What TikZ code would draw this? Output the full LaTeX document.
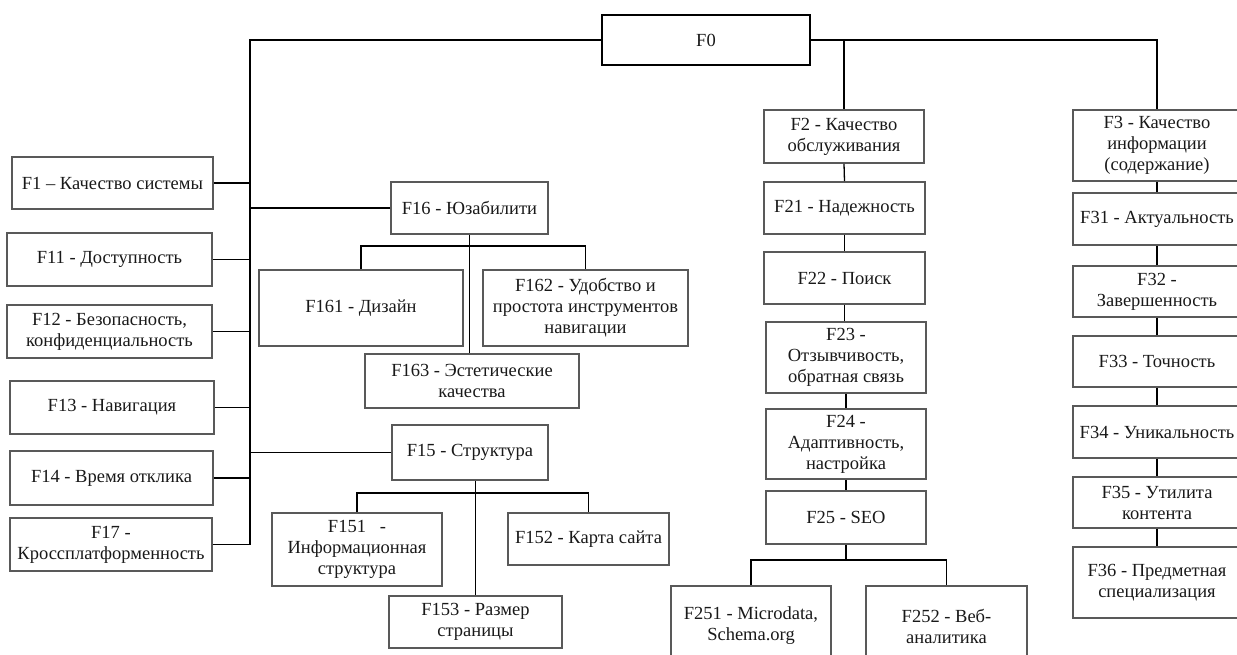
\documentclass[tikz,border=0pt]{standalone}
\usepackage{fontspec}
\setmainfont{Liberation Serif}
\begin{document}
\begin{tikzpicture}[x=1pt,y=-1pt,
  cell/.style={draw=black!65, line width=1.7pt, align=center, inner sep=0pt,
    text=black!90, font=\fontsize{18.5}{21}\selectfont},
  root/.style={cell, draw=black, line width=2.8pt},
  link/.style={draw=black, line width=1.3pt}]
\useasboundingbox (0,0) rectangle (1237,655);
\clip (0,0) rectangle (1237,655);

% root
\node[root, minimum width=208, minimum height=50] (F0) at (706,40) {F0};

% left column
\node[cell, minimum width=201, minimum height=52] (F1)  at (112.5,183)   {F1 -- Качество системы};
\node[cell, minimum width=205, minimum height=53] (F11) at (109.5,259.5) {F11 - Доступность};
\node[cell, minimum width=205, minimum height=53] (F12) at (109.5,331.5) {F12 - Безопасность,\\конфиденциальность};
\node[cell, minimum width=204, minimum height=53] (F13) at (112,407.5)   {F13 - Навигация};
\node[cell, minimum width=203, minimum height=54] (F14) at (111.5,478)   {F14 - Время отклика};
\node[cell, minimum width=202, minimum height=53] (F17) at (111,544.5)   {F17 -\\Кроссплатформенность};

% usability
\node[cell, minimum width=157, minimum height=52] (F16)  at (469.5,208) {F16 - Юзабилити};
\node[cell, minimum width=204, minimum height=76] (F161) at (361,308)   {F161 - Дизайн};
\node[cell, minimum width=205, minimum height=76] (F162) at (585.5,308) {F162 - Удобство и\\простота инструментов\\навигации};
\node[cell, minimum width=214, minimum height=54] (F163) at (472,381)   {F163 - Эстетические\\качества};

% structure
\node[cell, minimum width=156, minimum height=55] (F15)  at (470,452.5)   {F15 - Структура};
\node[cell, minimum width=170, minimum height=73] (F151) at (357,549.5)   {F151\ \ \ -\\Информационная\\структура};
\node[cell, minimum width=161, minimum height=52] (F152) at (588.5,539)   {F152 - Карта сайта};
\node[cell, minimum width=173, minimum height=52] (F153) at (475.5,622)   {F153 - Размер\\страницы};

% service quality
\node[cell, minimum width=160, minimum height=53] (F2)  at (844,136.5) {F2 - Качество\\обслуживания};
\node[cell, minimum width=161, minimum height=52] (F21) at (844.5,208) {F21 - Надежность};
\node[cell, minimum width=161, minimum height=52] (F22) at (844.5,278) {F22 - Поиск};
\node[cell, minimum width=160, minimum height=71] (F23) at (846,357.5) {F23 -\\Отзывчивость,\\обратная связь};
\node[cell, minimum width=160, minimum height=70] (F24) at (846,444)   {F24 -\\Адаптивность,\\настройка};
\node[cell, minimum width=160, minimum height=53] (F25) at (846,517.5) {F25 - SEO};
\node[cell, minimum width=160, minimum height=80] (F251) at (751,626)  {F251 - Microdata,\\Schema.org};
\node[cell, minimum width=161, minimum height=80] (F252) at (946.5,626) {F252 - Веб-\\аналитика};

% information quality
\node[cell, minimum width=168, minimum height=71] (F3)  at (1157,145.5) {F3 - Качество\\информации\\(содержание)};
\node[cell, minimum width=168, minimum height=52] (F31) at (1157,219)   {F31 - Актуальность};
\node[cell, minimum width=168, minimum height=51] (F32) at (1157,291.5) {F32 -\\Завершенность};
\node[cell, minimum width=168, minimum height=51] (F33) at (1157,361.5) {F33 - Точность};
\node[cell, minimum width=168, minimum height=52] (F34) at (1157,432)   {F34 - Уникальность};
\node[cell, minimum width=168, minimum height=51] (F35) at (1157,502.5) {F35 - Утилита\\контента};
\node[cell, minimum width=168, minimum height=71] (F36) at (1157,582.5) {F36 - Предметная\\специализация};

% bus and bar positions
\coordinate (lbus) at (250,40);
\coordinate (b16) at (470,246);
\coordinate (b15) at (474,493);
\coordinate (b25) at (846,560);

% root to the three branches
\draw[link] (F0.west) -| (lbus |- F17.east);
\draw[link] (F0.east) -| (F3.north);
\draw[link] (F2.north) -- (F2.north |- F0.east);

% left bus
\foreach \n in {F1,F11,F12,F13,F14,F17}
  \draw[link] (\n.east) -- (\n.east -| lbus);
\draw[link] (F16.west) -- (F16.west -| lbus);
\draw[link] (F15.west) -- (F15.west -| lbus);

% usability children
\draw[link] (F16.south) -- (F16.south |- F163.north);
\draw[link] (F161.north) |- (b16) -| (F162.north);

% structure children
\draw[link] (F153.north) -- (F153.north |- F15.south);
\draw[link] (F151.north) |- (b15) -| (F152.north);

% service chain
\draw[link] (F2.south) -- (F21.north);
\draw[link] (F21.south) -- (F22.north);
\draw[link] (F22.south) -- (F22.south |- F23.north);
\draw[link] (F23.south) -- (F24.north);
\draw[link] (F24.south) -- (F25.north);
\draw[link] (F25.south) -- (b25);
\draw[link] (F251.north) |- (b25) -| (F252.north);

% information chain
\draw[link] (F3.south) -- (F31.north);
\draw[link] (F31.south) -- (F32.north);
\draw[link] (F32.south) -- (F33.north);
\draw[link] (F33.south) -- (F34.north);
\draw[link] (F34.south) -- (F35.north);
\draw[link] (F35.south) -- (F36.north);
\end{tikzpicture}
\end{document}
